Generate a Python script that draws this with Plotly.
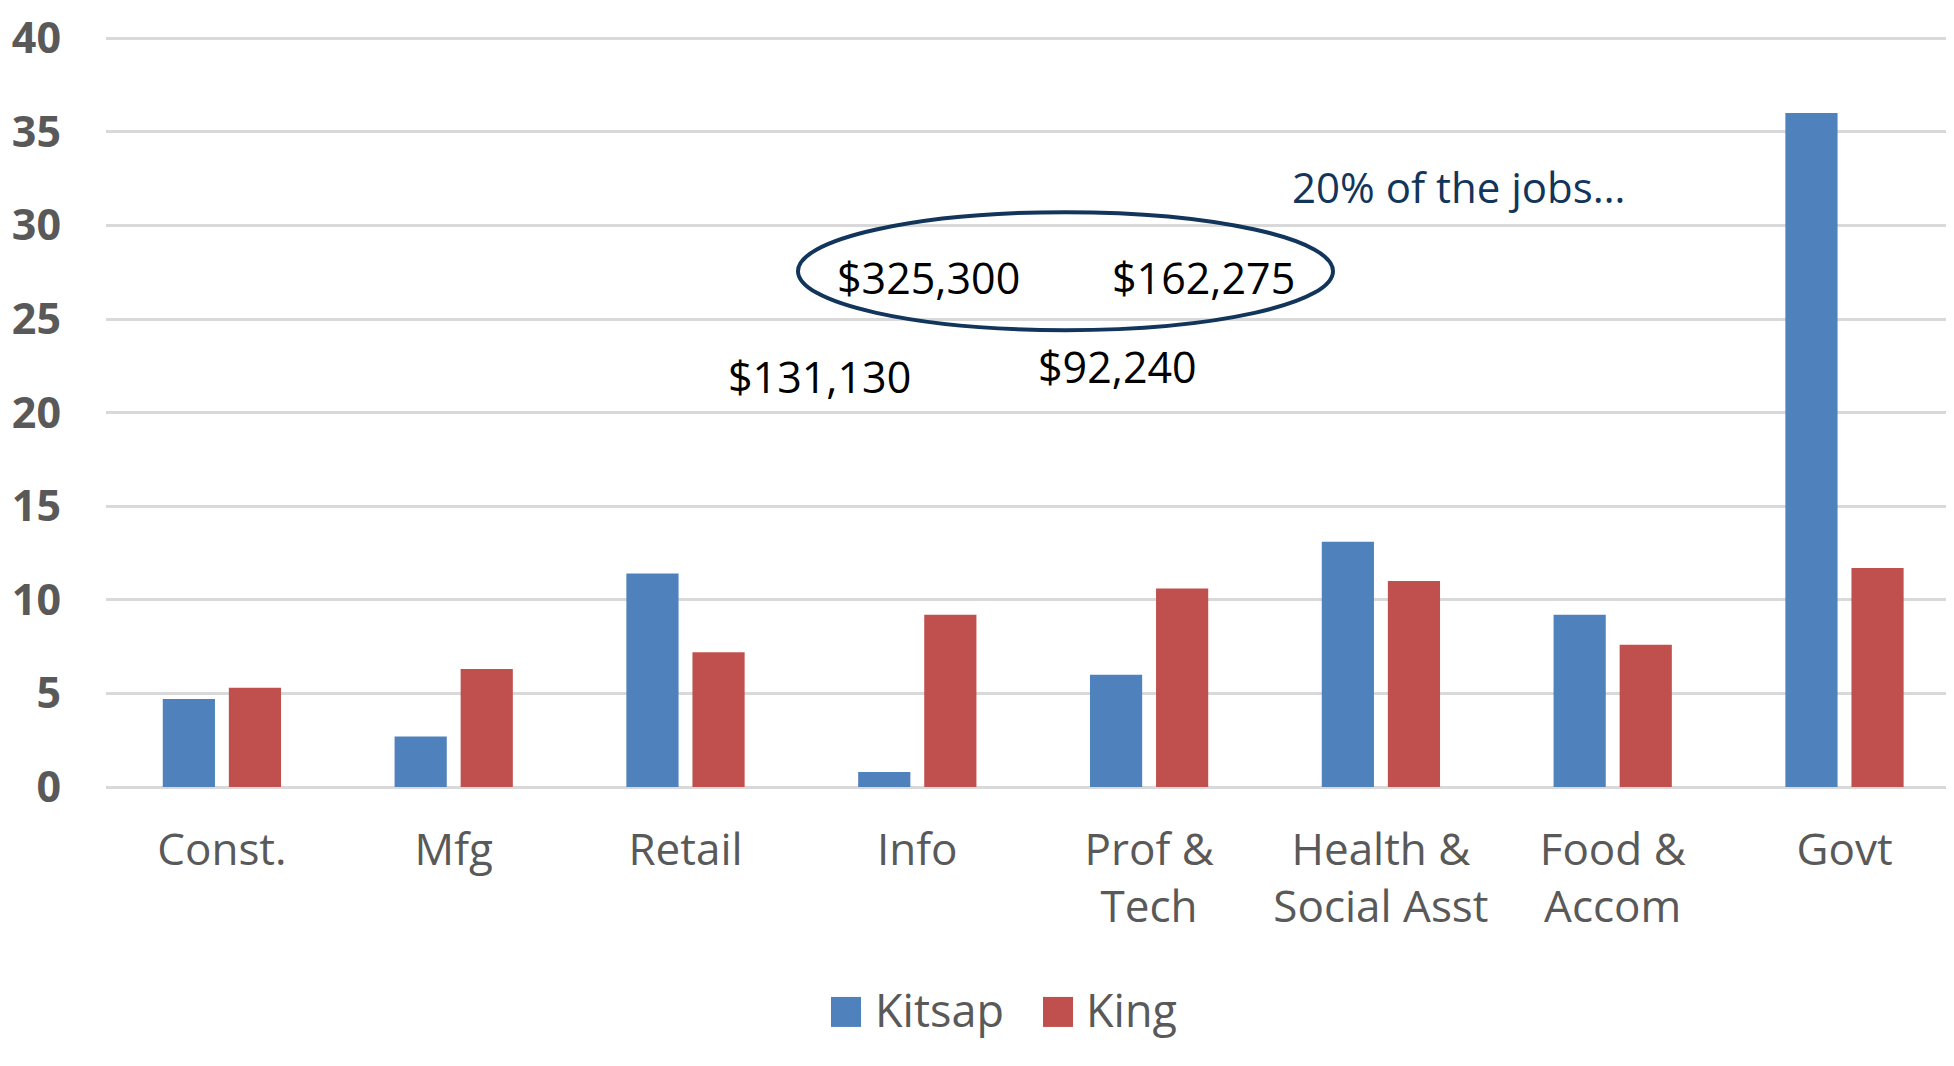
import plotly.graph_objects as go

# ---- data ----
categories = ["Const.", "Mfg", "Retail", "Info", "Prof &<br>Tech",
              "Health &<br>Social Asst", "Food &<br>Accom", "Govt"]
kitsap = [4.7, 2.7, 11.4, 0.8, 6.0, 13.1, 9.2, 36.0]
king = [5.3, 6.3, 7.2, 9.2, 10.6, 11.0, 7.6, 11.7]
series_names = ["Kitsap", "King"]
y_ticks = [0, 5, 10, 15, 20, 25, 30, 35, 40]
wage_labels = ["$325,300", "$162,275", "$131,130", "$92,240"]
note_text = "20% of the jobs\u2026"

# ---- style ----
BLUE = "#4F81BD"
RED = "#C0504D"
NAVY = "#12355B"
GRAY = "#595959"
GRID = "#D9D9D9"
FONT = "Open Sans, Liberation Sans, sans-serif"

OFF = 8  # page body margin
W, H = 1954, 1066
Y_TOP = 40.6                      # axis range top (a little above the 40 grid line)
UNIT = (787 - 38) / 40.0          # pixels per unit
L, R = 106 - OFF, 0
T = (38 - OFF) - (Y_TOP - 40) * UNIT
B = H - (787 - OFF)
PW, PH = W - L - R, H - T - B
GROUP = 231.8


def px(x):
    return (x - OFF - L) / PW


def py(y):
    return (H - B - (y - OFF)) / PH


fig = go.Figure()
fig.add_trace(go.Bar(x=categories, y=kitsap, name=series_names[0],
                     marker=dict(color=BLUE, line=dict(width=0)), showlegend=False))
fig.add_trace(go.Bar(x=categories, y=king, name=series_names[1],
                     marker=dict(color=RED, line=dict(width=0)), showlegend=False))

annotations = []
# wage labels
wage_pos = [(928, 277), (1203, 277), (819, 376), (1117, 366)]
for txt, (ax, ay) in zip(wage_labels, wage_pos):
    annotations.append(dict(text=txt, x=px(ax), y=py(ay), xref="paper", yref="paper",
                            xanchor="center", yanchor="middle", showarrow=False,
                            font=dict(family=FONT, size=43, color="black")))
annotations.append(dict(text=note_text, x=px(1458), y=py(186), xref="paper", yref="paper",
                        xanchor="center", yanchor="middle", showarrow=False,
                        font=dict(family=FONT, size=42, color=NAVY)))

# manual legend
shapes = []
legend_items = [(series_names[0], BLUE, 831, 873), (series_names[1], RED, 1043, 1084)]
for name, col, sx, tx in legend_items:
    shapes.append(dict(type="rect", xref="paper", yref="paper",
                       x0=px(sx), x1=px(sx + 30), y0=py(1027), y1=py(997),
                       fillcolor=col, line=dict(width=0)))
    annotations.append(dict(text=name, x=px(tx), y=py(1010), xref="paper", yref="paper",
                            xanchor="left", yanchor="middle", showarrow=False,
                            font=dict(family=FONT, size=45, color=GRAY)))

# ellipse
shapes.append(dict(type="circle", xref="paper", yref="paper",
                   x0=px(798), x1=px(1333), y0=py(330), y1=py(212),
                   line=dict(color=NAVY, width=4), fillcolor="rgba(0,0,0,0)"))

fig.update_layout(
    width=W, height=H,
    margin=dict(l=L, r=R, t=T, b=B, pad=0),
    paper_bgcolor="white", plot_bgcolor="white",
    barmode="group", bargap=0.43, bargroupgap=0.21,
    annotations=annotations, shapes=shapes,
    showlegend=False,
)
fig.update_xaxes(range=[-0.5, -0.5 + PW / GROUP], showgrid=False, showline=False,
                 zeroline=False, ticks="", ticklabelstandoff=33,
                 ticklabeloverflow="allow",
                 tickfont=dict(family=FONT, size=44, color=GRAY))
fig.update_yaxes(range=[0, Y_TOP], tickvals=y_ticks, showgrid=True, gridcolor=GRID,
                 gridwidth=2.5, zeroline=True, zerolinecolor=GRID, zerolinewidth=2.5,
                 showline=False, ticks="", ticklabelstandoff=44,
                 ticklabeloverflow="allow",
                 tickfont=dict(family=FONT, size=43, color=GRAY, weight="bold"))

fig.write_html("out.html")
